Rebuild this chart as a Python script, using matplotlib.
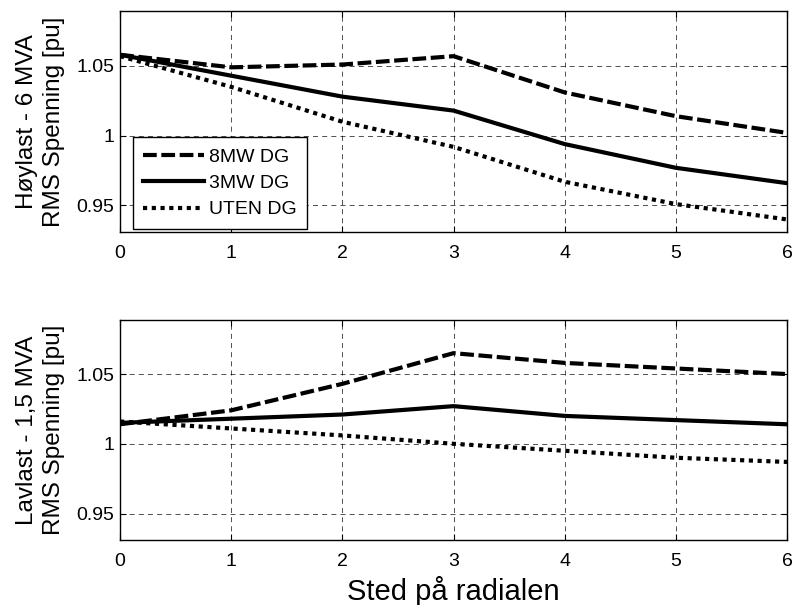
import matplotlib
matplotlib.use('Agg')
import matplotlib.pyplot as plt

plt.rcParams['font.family'] = ['Liberation Sans', 'DejaVu Sans']

steder = [0, 1, 2, 3, 4, 5, 6]

# Høylast - 6 MVA
hoy_8mw = [1.058, 1.049, 1.051, 1.057, 1.031, 1.014, 1.002]
hoy_3mw = [1.058, 1.043, 1.028, 1.018, 0.994, 0.977, 0.966]
hoy_uten = [1.057, 1.035, 1.010, 0.992, 0.967, 0.951, 0.940]

# Lavlast - 1,5 MVA
lav_8mw = [1.014, 1.024, 1.043, 1.065, 1.058, 1.054, 1.050]
lav_3mw = [1.015, 1.018, 1.021, 1.027, 1.020, 1.017, 1.014]
lav_uten = [1.016, 1.011, 1.006, 1.000, 0.995, 0.990, 0.987]

yticks = [0.95, 1.0, 1.05]
ytick_labels = ['0.95', '1', '1.05']
serier = ['8MW DG', '3MW DG', 'UTEN DG']

fig = plt.figure(figsize=(7.95, 6.05), dpi=100)
ax1 = fig.add_axes([0.151, 0.6165, 0.839, 0.3645])
ax2 = fig.add_axes([0.151, 0.1074, 0.839, 0.3642])


def tegn(ax, y8, y3, y0, ylabel):
    ax.plot(steder, y8, color='k', lw=3.0, linestyle=(0, (3.3, 1.1)), label=serier[0])
    ax.plot(steder, y3, color='k', lw=3.0, linestyle='-', label=serier[1])
    ax.plot(steder, y0, color='k', lw=3.0, linestyle=(0, (1, 1.1)), label=serier[2])
    ax.set_xlim(0, 6)
    ax.set_ylim(0.931, 1.089)
    ax.set_xticks(steder)
    ax.set_yticks(yticks)
    ax.set_yticklabels(ytick_labels)
    ax.tick_params(axis='x', direction='in', top=True, labelsize=14, length=4, pad=9)
    ax.tick_params(axis='y', direction='in', right=True, labelsize=14, length=4, pad=4)
    ax.grid(True, color='k', linestyle=(0, (6, 5)), linewidth=0.6, alpha=0.8)
    ax.set_ylabel(ylabel, fontsize=17.5, linespacing=1.3, labelpad=8)
    for s in ax.spines.values():
        s.set_linewidth(1.0)


tegn(ax1, hoy_8mw, hoy_3mw, hoy_uten, 'Høylast - 6 MVA\nRMS Spenning [pu]')
tegn(ax2, lav_8mw, lav_3mw, lav_uten, 'Lavlast - 1,5 MVA\nRMS Spenning [pu]')

leg = ax1.legend(loc='lower left', bbox_to_anchor=(0.019, 0.013), fontsize=14,
                 fancybox=False, edgecolor='k', framealpha=1, handlelength=3.1,
                 handletextpad=0.25, borderpad=0.55, labelspacing=0.45, borderaxespad=0)
leg.get_frame().set_linewidth(1.0)

ax2.set_xlabel('Sted på radialen', fontsize=21, labelpad=5)

fig.savefig('out.png', dpi=100)
